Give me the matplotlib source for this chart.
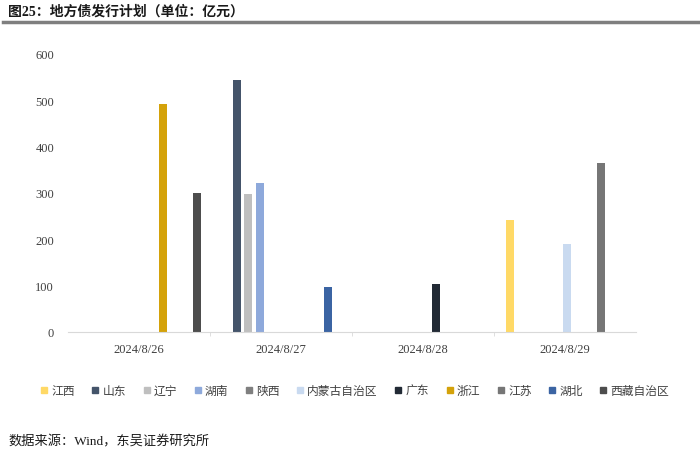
import numpy as np
import matplotlib.pyplot as plt
from matplotlib.lines import Line2D

plt.rcParams['font.family'] = ['Liberation Serif', 'Noto Sans CJK SC', 'DejaVu Sans']

dates = ["2024/8/26", "2024/8/27", "2024/8/28", "2024/8/29"]
provinces = ["江西", "山东", "辽宁", "湖南", "陕西", "内蒙古自治区", "广东", "浙江", "江苏", "湖北", "西藏自治区"]
colors = ["#FFD966", "#44546A", "#BFBFBF", "#8EA9DB", "#7F7F7F", "#C9DAF0",
          "#222A35", "#D4A20A", "#767676", "#3B64A3", "#4D4D4D"]

# values per province, one per date (亿元)
jiangxi = [0, 0, 0, 242]
shandong = [0, 544, 0, 0]
liaoning = [0, 298, 0, 0]
hunan = [0, 322, 0, 0]
shaanxi = [0, 0, 0, 0]
neimenggu = [0, 0, 0, 190]
guangdong = [0, 0, 104, 0]
zhejiang = [492, 0, 0, 0]
jiangsu = [0, 0, 0, 365]
hubei = [0, 97, 0, 0]
xizang = [300, 0, 0, 0]
series = [jiangxi, shandong, liaoning, hunan, shaanxi, neimenggu,
          guangdong, zhejiang, jiangsu, hubei, xizang]

fig = plt.figure(figsize=(7, 4.56), dpi=100)
ax = fig.add_axes([0.097, 0.27, 0.812, 0.61])

x = np.arange(len(dates))
slot = 0.08
width = 0.056
for i, vals in enumerate(series):
    offs = (i - 5) * slot + 0.01
    v = np.array(vals, dtype=float)
    v[v == 0] = np.nan
    ax.bar(x + offs, v, width, color=colors[i], label=provinces[i])

ax.set_xlim(-0.5, 3.5)
ax.set_ylim(0, 600)
ax.set_yticks(range(0, 601, 100))
ax.set_xticks(x)
ax.set_xticklabels(dates)
ax.set_xticks([0.5, 1.5, 2.5], minor=True)
ax.tick_params(axis='x', which='major', length=0, pad=8, labelsize=9, colors='#404040')
ax.tick_params(axis='x', which='minor', length=3, color='#D9D9D9')
ax.tick_params(axis='y', length=0, pad=10, labelsize=9, colors='#404040')
for s in ['top', 'right', 'left']:
    ax.spines[s].set_visible(False)
ax.spines['bottom'].set_color('#D9D9D9')

handles = [Line2D([0], [0], marker='s', linestyle='', markersize=5,
                  markerfacecolor=c, markeredgecolor=c) for c in colors]
fig.legend(handles, provinces, loc='center', bbox_to_anchor=(0.507, 0.14), ncol=11,
           frameon=False, fontsize=8.5, handlelength=0.6, handletextpad=0.3,
           columnspacing=1.45, labelcolor='#404040')

# title and rule
fig.text(0.012, 0.975, "图25：地方债发行计划（单位：亿元）", fontsize=10, fontweight='bold',
         va='center', ha='left', color='#1a1a1a')
fig.add_artist(Line2D([0.004, 1.0], [0.949, 0.949], color='#7F7F7F', linewidth=2.5))

fig.text(0.012, 0.03, "数据来源：Wind，东吴证券研究所", fontsize=9.5, va='center',
         ha='left', color='#1a1a1a')

fig.savefig("out.png", dpi=100)
